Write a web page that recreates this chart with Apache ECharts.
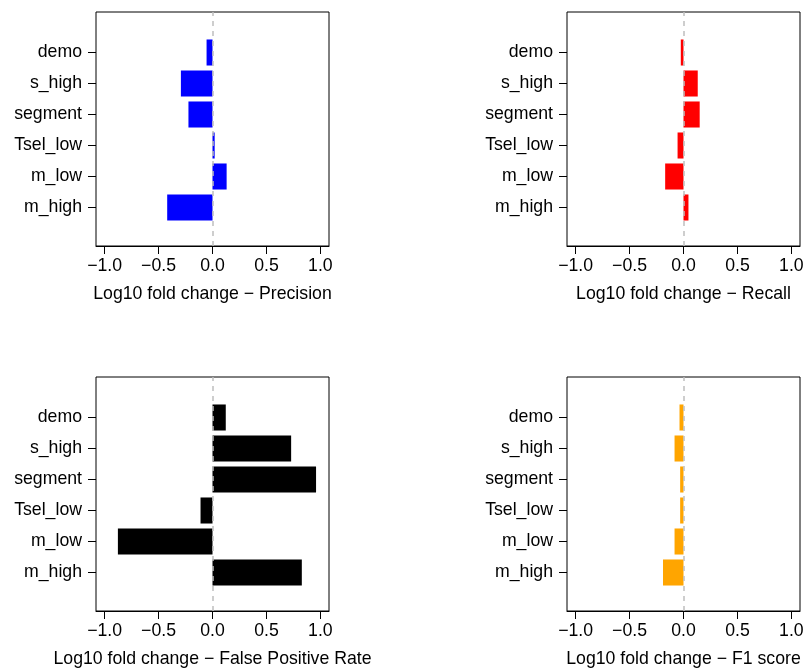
<!DOCTYPE html>
<html>
<head>
<meta charset="utf-8">
<script src="https://cdn.jsdelivr.net/npm/echarts@6/dist/echarts.min.js"></script>
<style>
html, body { margin: 0; padding: 0; background: #fff; }
#chart { width: 807px; height: 669px; }
</style>
</head>
<body>
<div id="chart"></div>
<script>
// categories, top to bottom
const categories = ["demo", "s_high", "segment", "Tsel_low", "m_low", "m_high"];
const xTicks = [-1, -0.5, 0, 0.5, 1];
const precision = [-0.055, -0.293, -0.223, 0.02, 0.131, -0.42];
const recall = [-0.025, 0.132, 0.15, -0.055, -0.17, 0.046];
const falsePositiveRate = [0.123, 0.729, 0.96, -0.111, -0.877, 0.828];
const f1Score = [-0.037, -0.083, -0.031, -0.031, -0.083, -0.19];

const panels = [
  { title: "Log10 fold change − Precision", values: precision, color: "#0000ff", left: 96, top: 12 },
  { title: "Log10 fold change − Recall", values: recall, color: "#ff0000", left: 567, top: 12 },
  { title: "Log10 fold change − False Positive Rate", values: falsePositiveRate, color: "#000000", left: 96, top: 377 },
  { title: "Log10 fold change − F1 score", values: f1Score, color: "#ffa500", left: 567, top: 377 }
];

const font = "'Liberation Sans', Arial, Helvetica, sans-serif";
const fs = 17.7;
const boxW = 233, boxH = 234, innerOff = 25, innerH = 186;

function fmt(v) {
  return (v < 0 ? "\u2212" : "") + Math.abs(v).toFixed(1);
}

let grid = [], xAxis = [], yAxis = [], series = [];
panels.forEach((p, i) => {
  let outer = 2 * i, inner = 2 * i + 1;
  // box + x axis
  grid.push({ left: p.left, top: p.top, width: boxW, height: boxH, show: true, borderColor: "#000", borderWidth: 1 });
  // bars
  grid.push({ left: p.left, top: p.top + innerOff, width: boxW, height: innerH });

  xAxis.push({
    gridIndex: outer, type: "value", min: -1.08, max: 1.08,
    name: p.title, nameLocation: "middle", nameGap: 39,
    nameTextStyle: { fontSize: fs, color: "#000", fontFamily: font },
    axisLine: { show: true, onZero: false, lineStyle: { color: "#000", width: 1 } },
    axisTick: { show: true, length: 8, customValues: xTicks, lineStyle: { color: "#000" } },
    axisLabel: { customValues: xTicks, formatter: fmt, fontSize: fs, color: "#000", fontFamily: font, margin: 11 },
    splitLine: { show: false }
  });
  xAxis.push({ gridIndex: inner, type: "value", min: -1.08, max: 1.08, show: false });

  yAxis.push({ gridIndex: outer, type: "value", min: 0, max: 1, show: false });
  yAxis.push({
    gridIndex: inner, type: "category", data: categories, inverse: true,
    axisLine: { show: false, onZero: false },
    axisTick: { show: true, alignWithLabel: true, length: 8, lineStyle: { color: "#000" } },
    axisLabel: { fontSize: fs, color: "#000", fontFamily: font, margin: 14 },
    splitLine: { show: false }
  });

  series.push({
    type: "line", xAxisIndex: outer, yAxisIndex: outer, data: [],
    markLine: {
      silent: true, symbol: "none", label: { show: false },
      lineStyle: { type: [5, 5], color: "#bebebe", width: 1.5 },
      data: [{ xAxis: 0 }]
    }
  });
  series.push({
    type: "bar", xAxisIndex: inner, yAxisIndex: inner, data: p.values,
    barCategoryGap: "16%", itemStyle: { color: p.color }, silent: true
  });
});

let myChart = echarts.init(document.getElementById("chart"));
myChart.setOption({ animation: false, backgroundColor: "#fff", grid, xAxis, yAxis, series });
</script>
</body>
</html>
